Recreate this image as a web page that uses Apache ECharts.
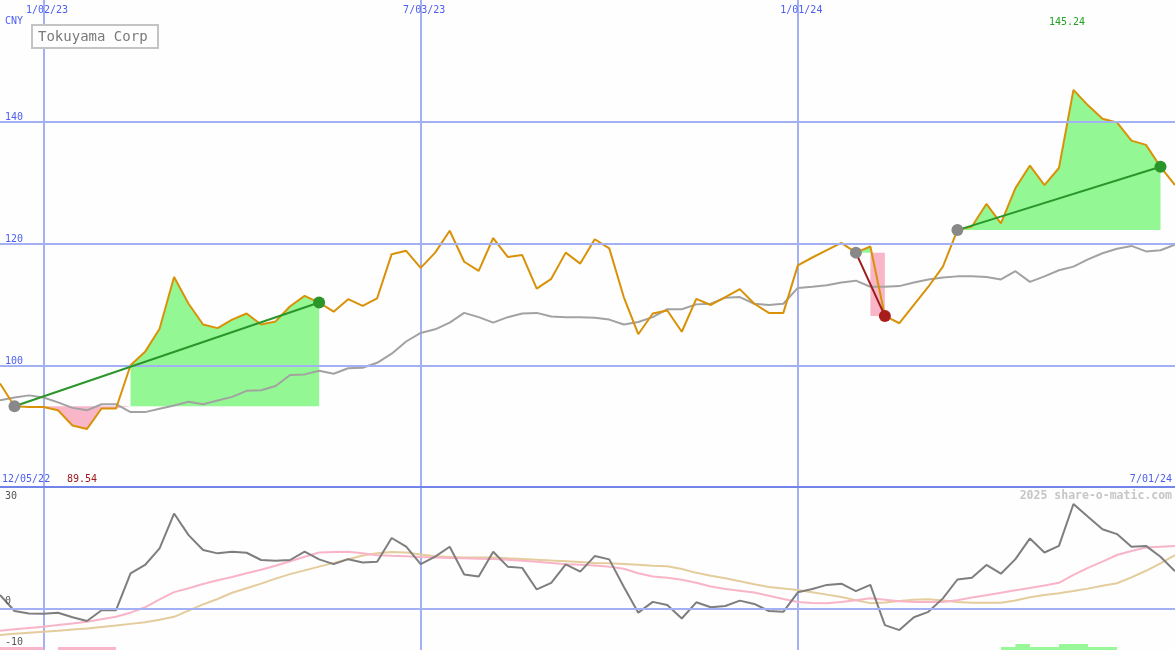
<!DOCTYPE html>
<html>
<head>
<meta charset="utf-8">
<title>Tokuyama Corp</title>
<script src="https://cdn.jsdelivr.net/npm/echarts@6/dist/echarts.min.js"></script>
<style>
  html, body { margin: 0; padding: 0; background: #fdfefd; }
  #chart { width: 1175px; height: 650px; }
</style>
</head>
<body>
<div id="chart"></div>
<script>
// weekly close, CNY (first week 12/12/22)
var price = [
  97.0, 93.26, 93.15, 93.15, 92.6, 90.1, 89.54, 92.9, 92.9, 100.0,
  102.2, 106.0, 114.5, 110.1, 106.7, 106.1, 107.5, 108.5, 106.7, 107.2,
  109.7, 111.4, 110.3, 108.8, 110.85, 109.75, 111.0, 118.25, 118.8, 116.0,
  118.5, 122.1, 117.0, 115.5, 120.9, 117.8, 118.1, 112.6, 114.2, 118.5,
  116.7, 120.7, 119.2, 111.2, 105.1, 108.5, 109.0, 105.5, 110.9, 109.9,
  111.2, 112.5, 110.1, 108.6, 108.6, 116.4, 117.7, 118.9, 120.1, 118.5,
  119.5, 108.1, 106.9, 109.9, 112.9, 116.2, 122.2, 122.8, 126.5, 123.3,
  129.1, 132.8, 129.6, 132.4, 145.24, 142.7, 140.5, 139.9, 136.9, 136.2,
  132.6, 129.6
];
// moving average (grey)
var avg = [
  94.25, 94.7, 95.05, 94.7, 93.9, 93.0, 92.6, 93.6, 93.6, 92.3,
  92.3, 92.85, 93.4, 94.0, 93.6, 94.2, 94.8, 95.8, 95.9, 96.6,
  98.4, 98.5, 99.1, 98.6, 99.5, 99.6, 100.4, 101.9, 103.9, 105.3,
  105.9, 107.0, 108.6, 107.9, 107.0, 107.9, 108.5, 108.6, 108.0, 107.9,
  107.9, 107.8, 107.5, 106.7, 107.1, 107.9, 109.2, 109.2, 110.0, 110.1,
  111.1, 111.2, 110.1, 109.9, 110.1, 112.7, 112.9, 113.15, 113.6, 113.9,
  112.9, 112.9, 113.0, 113.6, 114.1, 114.4, 114.6, 114.6, 114.5, 114.1,
  115.45, 113.7, 114.6, 115.6, 116.2, 117.4, 118.4, 119.15, 119.6, 118.7,
  118.9, 119.8
];
// lower panel: oscillator and its two averages
var osc = [
  3.25, -0.6, -1.2, -1.25, -1.0, -2.1, -3.0, -0.4, -0.4, 8.5,
  10.5, 14.5, 22.9, 17.7, 14.1, 13.3, 13.7, 13.45, 11.7, 11.5,
  11.7, 13.7, 11.85, 10.7, 11.9, 11.1, 11.3, 17.0, 14.9, 10.7,
  12.5, 14.9, 8.2, 7.7, 13.7, 10.1, 9.8, 4.6, 6.2, 10.65,
  8.9, 12.65, 11.85, 5.25, -1.0, 1.6, 0.85, -2.4, 1.5, 0.3,
  0.6, 1.9, 1.1, -0.6, -0.8, 3.9, 4.7, 5.7, 6.0, 4.2,
  5.7, -4.0, -5.2, -2.1, -0.8, 2.45, 7.0, 7.4, 10.5, 8.4,
  11.9, 16.9, 13.5, 15.1, 25.2, 22.1, 19.1, 17.95, 14.9, 15.1,
  12.5, 9.0
];
var oscFast = [
  -5.35, -5.0, -4.7, -4.4, -4.0, -3.6, -3.2, -2.6, -2.0, -1.0,
  0.3, 2.2, 3.95, 4.9, 5.9, 6.8, 7.6, 8.5, 9.35, 10.3,
  11.4, 12.5, 13.5, 13.6, 13.7, 13.3, 12.85, 12.7, 12.6, 12.4,
  12.3, 12.2, 12.1, 12.0, 11.95, 11.75, 11.5, 11.25, 11.0, 10.7,
  10.55, 10.35, 10.1, 9.6, 8.5, 7.7, 7.4, 6.95, 6.2, 5.3,
  4.7, 4.3, 3.85, 3.1, 2.3, 1.55, 1.35, 1.25, 1.55, 2.0,
  2.45, 2.1, 1.75, 1.6, 1.6, 1.6, 2.0, 2.65, 3.2, 3.8,
  4.4, 4.95, 5.55, 6.2, 8.1, 9.8, 11.3, 12.9, 13.85, 14.7,
  14.9, 15.1
];
var oscSlow = [
  -6.4, -6.1, -5.85, -5.6, -5.35, -5.05, -4.8, -4.45, -4.1, -3.7,
  -3.3, -2.7, -2.0, -0.5, 1.0, 2.3, 3.8, 4.9, 6.0, 7.2,
  8.3, 9.2, 10.1, 11.0, 11.9, 12.8, 13.3, 13.6, 13.5, 13.0,
  12.6, 12.45, 12.3, 12.3, 12.3, 12.1, 11.95, 11.75, 11.55, 11.4,
  11.2, 11.0, 10.9, 10.75, 10.55, 10.3, 10.2, 9.55, 8.6, 7.9,
  7.3, 6.6, 5.85, 5.2, 4.85, 4.45, 3.95, 3.35, 2.8, 2.0,
  1.3, 1.45, 1.8, 2.1, 2.25, 1.95, 1.6, 1.4, 1.4, 1.4,
  1.95, 2.7, 3.25, 3.7, 4.2, 4.8, 5.5, 6.1, 7.5, 9.1,
  10.9, 12.9
];
// signal strips along the bottom edge
var sellBars = [1, 1, 1, 0, 1, 1, 1, 1, 0];
var buyBars = { 69: 1, 70: 2, 71: 1, 72: 1, 73: 2, 74: 2, 75: 1, 76: 1, 77: 0 };
// trend windows [start week, end week]
var trends = [[1, 22], [59, 61], [66, 80]];

var priceTicks = [100, 120, 140];
var dateTicks = ['1/02/23', '7/03/23', '1/01/24'];
var rangeLabels = ['12/05/22', '7/01/24'];
var oscLabels = ['30', '0', '-10'];

var mono = '"DejaVu Sans Mono", monospace';
var blue = '#4d5ef0';
var gridBlue = '#a3b0f3';

var dates = [];
var d = new Date(2022, 11, 12);
for (var k = 0; k < price.length; k++) {
    dates.push((d.getMonth() + 1) + '/' + ('0' + d.getDate()).slice(-2) + '/' + String(d.getFullYear()).slice(-2));
    d.setDate(d.getDate() + 7);
}
function isTick(idx, val) {
    return dateTicks.indexOf(val) >= 0;
}
var sellData = dates.map(function (x, i) { return i < sellBars.length ? sellBars[i] : 0; });
var buyData = dates.map(function (x, i) { return buyBars[i] || 0; });

var series = [];
// horizontal grid lines with their price labels
series.push({
    type: 'line', xAxisIndex: 0, yAxisIndex: 0, data: [], z: 1, silent: true,
    markLine: {
        symbol: ['none', 'none'], silent: true, animation: false,
        lineStyle: { color: gridBlue, width: 2, type: 'solid' },
        label: { position: 'insideStartTop', formatter: '{c}', color: blue, fontSize: 10, fontFamily: mono, distance: [5, -1] },
        emphasis: { disabled: true },
        data: priceTicks.map(function (v) { return { yAxis: v }; })
    }
});
// zero line in the lower panel
series.push({
    type: 'line', xAxisIndex: 1, yAxisIndex: 1, data: [], z: 1, silent: true,
    markLine: {
        symbol: ['none', 'none'], silent: true, animation: false,
        lineStyle: { color: gridBlue, width: 2, type: 'solid' },
        label: { show: false },
        emphasis: { disabled: true },
        data: [{ yAxis: 0 }]
    }
});

// fills between price and the level at the start of each trend
trends.forEach(function (t) {
    var s = t[0], e = t[1], base = price[s];
    var up = price[e] >= base;
    var green = price.map(function (p, k) { return k >= s && k <= e && p >= base ? p : null; });
    var pink = price.map(function (p, k) { return k >= s && k <= e ? Math.min(p, base) : null; });
    series.push({
        type: 'line', xAxisIndex: 0, yAxisIndex: 0, data: green, showSymbol: false, silent: true, z: 2,
        lineStyle: { width: 0, opacity: 0 },
        areaStyle: { color: '#93f893', opacity: 1, origin: base }
    });
    series.push({
        type: 'line', xAxisIndex: 0, yAxisIndex: 0, data: pink, showSymbol: false, silent: true, z: 2,
        step: up ? false : 'start',
        lineStyle: { width: 0, opacity: 0 },
        areaStyle: { color: '#f9b6c9', opacity: 1, origin: base }
    });
});

series.push({
    type: 'line', xAxisIndex: 0, yAxisIndex: 0, data: avg, showSymbol: false, z: 3,
    lineStyle: { color: '#a2a2a2', width: 2 }
});
series.push({
    type: 'line', xAxisIndex: 0, yAxisIndex: 0, data: price, showSymbol: false, z: 4,
    lineStyle: { color: '#d99208', width: 2 }
});

trends.forEach(function (t) {
    var s = t[0], e = t[1];
    var up = price[e] >= price[s];
    series.push({
        type: 'line', xAxisIndex: 0, yAxisIndex: 0, z: 5,
        symbol: 'circle', symbolSize: 12, showSymbol: true, showAllSymbol: true,
        lineStyle: { color: up ? '#2a962a' : '#9c1c1c', width: 2 },
        data: [
            { value: [s, price[s]], itemStyle: { color: '#888888' } },
            { value: [e, price[e]], itemStyle: { color: up ? '#2a962a' : '#a81c1c' } }
        ]
    });
});

// lower panel
series.push({
    type: 'line', xAxisIndex: 1, yAxisIndex: 1, data: oscSlow, showSymbol: false, z: 2,
    lineStyle: { color: '#e4cc9c', width: 2 }
});
series.push({
    type: 'line', xAxisIndex: 1, yAxisIndex: 1, data: oscFast, showSymbol: false, z: 3,
    lineStyle: { color: '#f9b4c8', width: 2 }
});
series.push({
    type: 'line', xAxisIndex: 1, yAxisIndex: 1, data: osc, showSymbol: false, z: 4,
    lineStyle: { color: '#7e7e7e', width: 2 }
});
series.push({
    type: 'line', xAxisIndex: 2, yAxisIndex: 2, data: sellData, showSymbol: false, step: 'end', silent: true,
    lineStyle: { width: 0, opacity: 0 }, areaStyle: { color: '#f9b6c9', opacity: 1 }
});
series.push({
    type: 'line', xAxisIndex: 2, yAxisIndex: 2, data: buyData, showSymbol: false, step: 'end', silent: true,
    lineStyle: { width: 0, opacity: 0 }, areaStyle: { color: '#98f898', opacity: 1 }
});

var lo = Math.min.apply(null, price);
var hi = Math.max.apply(null, price);

var chart = echarts.init(document.getElementById('chart'));
chart.setOption({
    animation: false,
    backgroundColor: '#fdfefd',
    grid: [
        { left: 0, right: 0, top: 0, height: 487 },
        { left: 0, right: 0, top: 487, height: 163 },
        { left: 0, right: 0, top: 644, height: 6 }
    ],
    xAxis: [
        {
            gridIndex: 0, type: 'category', data: dates, boundaryGap: false, position: 'top',
            axisLine: { show: false }, axisTick: { show: false },
            axisLabel: { inside: true, margin: 5, interval: isTick, color: blue, fontSize: 10, fontFamily: mono, padding: [0, 0, 0, 7] },
            splitLine: { show: true, interval: isTick, lineStyle: { color: gridBlue, width: 2 } }
        },
        {
            gridIndex: 1, type: 'category', data: dates, boundaryGap: false, position: 'top',
            axisLine: { show: true, onZero: false, lineStyle: { color: '#7284ea', width: 2 } },
            axisTick: { show: false }, axisLabel: { show: false },
            splitLine: { show: true, interval: isTick, lineStyle: { color: gridBlue, width: 2 } }
        },
        { gridIndex: 2, type: 'category', data: dates, boundaryGap: false, show: false }
    ],
    yAxis: [
        { gridIndex: 0, type: 'value', min: 80, max: 160, show: false },
        { gridIndex: 1, type: 'value', min: -10, max: 29.3, show: false },
        { gridIndex: 2, type: 'value', min: 0, max: 2, show: false }
    ],
    graphic: [
        { type: 'rect', shape: { x: 32, y: 25, width: 126, height: 23 }, style: { fill: '#fdfefd', stroke: '#c4c4c4', lineWidth: 2 }, z: 10 },
        { type: 'text', x: 38, y: 37, z: 11, style: { text: 'Tokuyama Corp', fill: '#7a7a7a', font: '14px ' + mono, verticalAlign: 'middle' } },
        { type: 'text', x: 5, y: 21, z: 11, style: { text: 'CNY', fill: blue, font: '10px ' + mono, verticalAlign: 'middle' } },
        { type: 'text', x: 2, y: 479, z: 11, style: { text: rangeLabels[0], fill: blue, font: '10px ' + mono, verticalAlign: 'middle' } },
        { type: 'text', x: 1172, y: 479, z: 11, style: { text: rangeLabels[1], fill: blue, font: '10px ' + mono, verticalAlign: 'middle', align: 'right' } },
        { type: 'text', x: 67, y: 479, z: 11, style: { text: lo.toFixed(2), fill: '#a01818', font: '10px ' + mono, verticalAlign: 'middle' } },
        { type: 'text', x: 1049, y: 22, z: 11, style: { text: hi.toFixed(2), fill: '#22a022', font: '10px ' + mono, verticalAlign: 'middle' } },
        { type: 'text', x: 1172, y: 496, z: 11, style: { text: '2025 share-o-matic.com', fill: '#c6c6c6', font: 'bold 11.5px ' + mono, verticalAlign: 'middle', align: 'right' } },
        { type: 'text', x: 5, y: 496, z: 11, style: { text: oscLabels[0], fill: '#555555', font: '10px ' + mono, verticalAlign: 'middle' } },
        { type: 'text', x: 5, y: 601, z: 11, style: { text: oscLabels[1], fill: '#555555', font: '10px ' + mono, verticalAlign: 'middle' } },
        { type: 'text', x: 5, y: 642, z: 11, style: { text: oscLabels[2], fill: '#555555', font: '10px ' + mono, verticalAlign: 'middle' } }
    ],
    series: series
});
</script>
</body>
</html>
